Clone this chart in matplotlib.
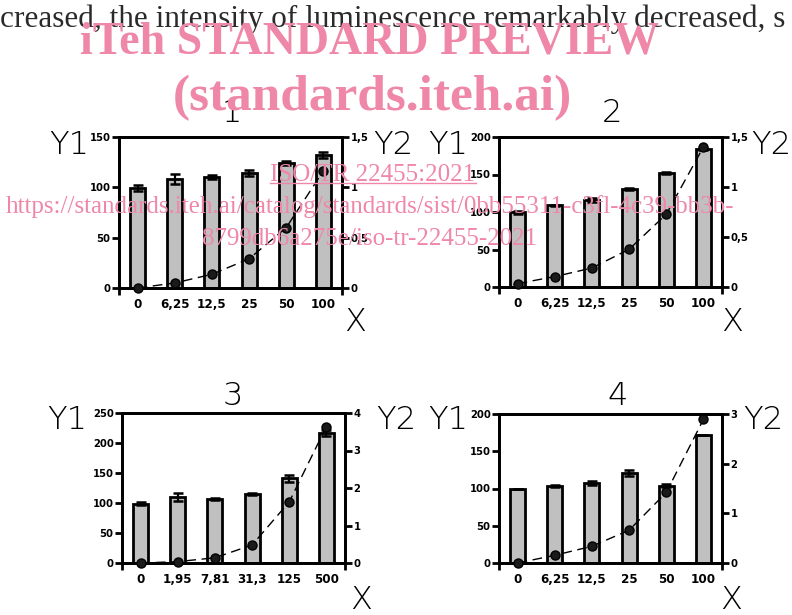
import matplotlib
matplotlib.use("Agg")
import matplotlib.pyplot as plt
from matplotlib import font_manager
from matplotlib.font_manager import FontProperties
from matplotlib.lines import Line2D
import numpy as np

# ---------------- data ----------------
cats_a = ["0", "6,25", "12,5", "25", "50", "100"]
cats_c = ["0", "1,95", "7,81", "31,3", "125", "500"]

p1_bars = [99, 108, 110.5, 114, 124.5, 132]
p1_err = [3, 5, 2, 3, 2, 3]
p1_line = [0.0, 0.05, 0.136, 0.29, 0.6, 1.164]

p2_bars = [100, 109, 116, 131, 152, 184]
p2_err = [2, 1, 3, 1, 1, 1]
p2_line = [0.034, 0.104, 0.19, 0.377, 0.727, 1.40]

p3_bars = [99, 110, 107, 115.5, 141, 217.5]
p3_err = [2, 6, 2, 2, 6, 5]
p3_line = [0.0, 0.036, 0.14, 0.48, 1.63, 3.64]

p4_bars = [99.3, 103.8, 107.4, 121, 104, 171.7]
p4_err = [0.5, 1.5, 3, 4, 2, 0.5]
p4_line = [0.0, 0.155, 0.337, 0.66, 1.42, 2.89]

y1_ticks_1 = [0, 50, 100, 150]
y2_ticks_1 = [0, 0.5, 1, 1.5]
y1_ticks_2 = [0, 50, 100, 150, 200]
y2_ticks_2 = [0, 0.5, 1, 1.5]
y1_ticks_3 = [0, 50, 100, 150, 200, 250]
y2_ticks_3 = [0, 1, 2, 3, 4]
y1_ticks_4 = [0, 50, 100, 150, 200]
y2_ticks_4 = [0, 1, 2, 3]

titles = ["1", "2", "3", "4"]

top_text = "creased, the intensity of luminescence remarkably decreased, s"
wm_lines = ["iTeh STANDARD PREVIEW", "(standards.iteh.ai)", "ISO/TR 22455:2021",
            "https://standards.iteh.ai/catalog/standards/sist/0bb55311-c3fl-4c39-bb3b-",
            "8799db6a275e/iso-tr-22455-2021"]

# ---------------- fonts ----------------
avail = {f.name for f in font_manager.fontManager.ttflist}
cond_bold = None
for f in font_manager.fontManager.ttflist:
    if "DejaVuSansCondensed-Bold.ttf" in f.fname:
        cond_bold = f.fname
        break


def tick_fp(size):
    if cond_bold:
        return FontProperties(fname=cond_bold, size=size)
    if "Liberation Sans Narrow" in avail:
        return FontProperties(family="Liberation Sans Narrow", weight="bold", size=size)
    return FontProperties(family="DejaVu Sans", weight="bold", size=size)


serif = "Liberation Serif" if "Liberation Serif" in avail else "DejaVu Serif"

W, H = 792, 615
fig = plt.figure(figsize=(W / 100, H / 100), dpi=100)


def fx(x):
    return x / W


def fy(y):
    return 1 - y / H


def rect(l, t, r, b):
    return [fx(l), fy(b), (r - l) / W, (b - t) / H]


def fmt(v):
    return ("%g" % v).replace(".", ",")


panels = [
    (rect(119, 137, 342, 288), cats_a, p1_bars, p1_err, p1_line, y1_ticks_1, y2_ticks_1),
    (rect(499, 137, 722, 287), cats_a, p2_bars, p2_err, p2_line, y1_ticks_2, y2_ticks_2),
    (rect(122, 413, 345, 563), cats_c, p3_bars, p3_err, p3_line, y1_ticks_3, y2_ticks_3),
    (rect(499, 414, 722, 563), cats_a, p4_bars, p4_err, p4_line, y1_ticks_4, y2_ticks_4),
]

# label pixel positions: (title, Y1, Y2, X)
label_pos = [
    ((232, 113), (69, 145), (393, 145), (355, 322)),
    ((612, 113), (448, 145), (771, 145), (732, 322)),
    ((233, 396), (67, 420), (396, 420), (361, 600)),
    ((618, 396), (448, 420), (763, 420), (731, 600)),
]

lw = 2.0
for i, (r, cats, bars, err, line, t1, t2) in enumerate(panels):
    ax = fig.add_axes(r)
    x = np.arange(len(cats))
    ax.bar(x, bars, width=0.40, color="#c0c0c0", edgecolor="black", linewidth=lw,
           yerr=err, error_kw=dict(ecolor="black", elinewidth=1.6, capsize=3.5, capthick=1.8),
           zorder=2)
    ax.set_xlim(-0.5, 5.5)
    ax.set_ylim(t1[0], t1[-1])
    ax.set_yticks(t1)
    ax.set_yticklabels([fmt(v) for v in t1])
    ax.set_xticks(x)
    ax.set_xticklabels(cats)
    ax.set_xticks([-0.5, 5.5], minor=True)
    ax.tick_params(axis="x", which="major", length=0, pad=7)
    ax.tick_params(axis="x", which="minor", length=5, width=lw, direction="out")
    ax.tick_params(axis="y", length=5, width=lw, direction="out", pad=1)
    for sp in ax.spines.values():
        sp.set_linewidth(lw)
    for lab in ax.get_xticklabels():
        lab.set_fontproperties(tick_fp(9.5))
    for lab in ax.get_yticklabels():
        lab.set_fontproperties(tick_fp(8))

    ax2 = ax.twinx()
    ax2.set_ylim(t2[0], t2[-1])
    ax2.set_yticks(t2)
    ax2.set_yticklabels([fmt(v) for v in t2])
    ax2.tick_params(axis="y", length=5, width=lw, direction="out", pad=1)
    for sp in ax2.spines.values():
        sp.set_linewidth(lw)
    for lab in ax2.get_yticklabels():
        lab.set_fontproperties(tick_fp(8))
    ax2.plot(x, line, color="black", linestyle=(0, (7, 4)), linewidth=1.0,
             marker="o", markersize=6.5, markerfacecolor="#1a1a1a", markeredgecolor="black",
             clip_on=False, zorder=3)

    tp, y1p, y2p, xp = label_pos[i]
    kw = dict(fontsize=23, fontweight="light", ha="center", va="center", color="black")
    fig.text(fx(tp[0]), fy(tp[1]), titles[i], **kw)
    fig.text(fx(y1p[0]), fy(y1p[1]), "Y1", **kw)
    fig.text(fx(y2p[0]), fy(y2p[1]), "Y2", **kw)
    fig.text(fx(xp[0]), fy(xp[1]), "X", **kw)

# top body text (cut off at edges)
fig.text(fx(0), fy(27), top_text, fontsize=22.5, family=serif, color="#2a2a2a",
         ha="left", va="baseline")

# watermark
pink = "#ef87a8"
fig.text(fx(370), fy(54), wm_lines[0], fontsize=33, family=serif, fontweight="bold",
         color=pink, ha="center", va="baseline", zorder=10)
fig.text(fx(372), fy(110), wm_lines[1], fontsize=37, family=serif, fontweight="bold",
         color=pink, ha="center", va="baseline", zorder=10)
iso = fig.text(fx(373), fy(181), wm_lines[2], fontsize=18, family=serif,
               color=pink, ha="center", va="baseline", zorder=10)
fig.text(fx(370), fy(213), wm_lines[3], fontsize=18, family=serif,
         color=pink, ha="center", va="baseline", zorder=10)
fig.text(fx(370), fy(245), wm_lines[4], fontsize=18, family=serif,
         color=pink, ha="center", va="baseline", zorder=10)

fig.canvas.draw()
bb = iso.get_window_extent()
uy = (H - 183) / H
fig.add_artist(Line2D([bb.x0 / W, bb.x1 / W], [uy, uy], color=pink, linewidth=1.0, zorder=10))

fig.savefig("out.png", dpi=100)
